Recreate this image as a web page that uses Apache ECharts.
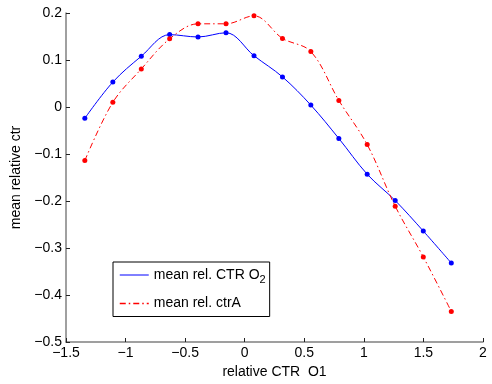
<!DOCTYPE html>
<html>
<head>
<meta charset="utf-8">
<script src="https://cdn.jsdelivr.net/npm/echarts@6/dist/echarts.min.js"></script>
<style>html,body{margin:0;padding:0;background:#fff;}#c{width:492px;height:384px;}</style>
</head>
<body>
<div id="c"></div>
<script>
const xValues = [-1.342, -1.107, -0.868, -0.630, -0.392, -0.157, 0.078, 0.317, 0.555, 0.790, 1.028, 1.263, 1.499, 1.734];
const blueValues = [-0.024, 0.053, 0.108, 0.154, 0.149, 0.158, 0.109, 0.064, 0.004, -0.067, -0.143, -0.199, -0.264, -0.332];
const redValues = [-0.114, 0.010, 0.081, 0.145, 0.177, 0.177, 0.194, 0.146, 0.118, 0.014, -0.080, -0.211, -0.319, -0.435];
const seriesNames = ['mean rel. CTR O2', 'mean rel. ctrA'];
const xTicks = [-1.5, -1, -0.5, 0, 0.5, 1, 1.5, 2];
const yTicks = [-0.5, -0.4, -0.3, -0.2, -0.1, 0, 0.1, 0.2];

const FONT = 'Liberation Sans';
const BLUE = '#0000ff', RED = '#ff0000';
const RED_DASH = [6, 3, 1.5, 3];
function fmt(v) {
  v = parseFloat(v.toFixed(2));
  return v < 0 ? '\u2212' + Math.abs(v) : String(v);
}
const chart = echarts.init(document.getElementById('c'), null, {renderer: 'canvas'});
const axisCommon = {
  axisLine: {show: true, onZero: false, lineStyle: {color: '#808080', width: 1.5}},
  axisTick: {show: true, inside: true, length: 4, lineStyle: {color: '#222', width: 1}},
  axisLabel: {color: '#000', fontSize: 14, fontFamily: FONT, formatter: fmt},
  splitLine: {show: false},
  nameTextStyle: {color: '#000', fontSize: 14, fontFamily: FONT}
};
chart.setOption({
  animation: false,
  backgroundColor: '#fff',
  grid: {left: 66, right: 9, top: 13, bottom: 41, containLabel: false},
  xAxis: Object.assign({}, axisCommon, {
    type: 'value', min: xTicks[0], max: xTicks[xTicks.length - 1], interval: 0.5,
    name: 'relative CTR  O1', nameLocation: 'middle', nameGap: 23,
    axisLabel: Object.assign({}, axisCommon.axisLabel, {margin: 4})
  }),
  yAxis: Object.assign({}, axisCommon, {
    type: 'value', min: yTicks[0], max: yTicks[yTicks.length - 1], interval: 0.1,
    name: 'mean relative ctr', nameLocation: 'middle', nameGap: 38,
    axisLabel: Object.assign({}, axisCommon.axisLabel, {margin: 4})
  }),
  legend: {
    orient: 'vertical', left: 113, top: 262,
    backgroundColor: '#fff', borderColor: '#000', borderWidth: 1,
    padding: [6, 4, 6, 6], itemGap: 11, itemWidth: 29, itemHeight: 14,
    itemStyle: {opacity: 0},
    textStyle: {color: '#000', fontSize: 14, fontFamily: FONT,
      rich: {
        a: {color: '#000', fontSize: 14, fontFamily: FONT},
        sub: {color: '#000', fontSize: 11, fontFamily: FONT, padding: [10, 0, 0, 0]}
      }},
    formatter: function (n) {
      if (n === seriesNames[0]) return '{a|mean rel. CTR O}{sub|2}';
      return '{a|' + n + '}';
    },
    data: [
      {name: seriesNames[0], lineStyle: {color: BLUE, width: 1}},
      {name: seriesNames[1], lineStyle: {color: RED, width: 1.5}}
    ]
  },
  series: [
    {
      name: seriesNames[0], type: 'line', smooth: 0.35,
      data: xValues.map((x, i) => [x, blueValues[i]]),
      symbol: 'circle', symbolSize: 5, showSymbol: true,
      lineStyle: {color: BLUE, width: 1},
      itemStyle: {color: BLUE}
    },
    {
      name: seriesNames[1], type: 'line', smooth: 0.35,
      data: xValues.map((x, i) => [x, redValues[i]]),
      symbol: 'circle', symbolSize: 5, showSymbol: true,
      lineStyle: {color: RED, width: 1, type: RED_DASH},
      itemStyle: {color: RED}
    }
  ]
});
</script>
</body>
</html>
